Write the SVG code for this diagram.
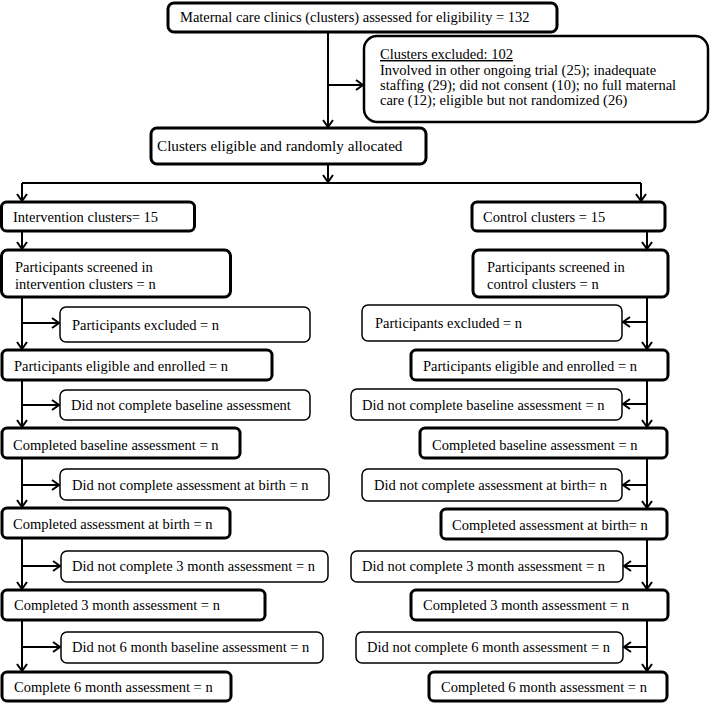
<svg xmlns="http://www.w3.org/2000/svg" width="711" height="703" viewBox="0 0 711 703">
<defs>
<style>
text{font-family:"Liberation Serif","Times New Roman",serif;font-size:14.5px;fill:#000}
.m{fill:#fff;stroke:#000;stroke-width:3}
.s{fill:#fff;stroke:#000;stroke-width:1.5}
.c{fill:none;stroke:#000;stroke-width:2}
.a{marker-end:url(#ah)}
</style>
<marker id="ah" markerWidth="12" markerHeight="12" refX="10" refY="6" orient="auto" markerUnits="userSpaceOnUse"><path d="M3,1 L10,6 L3,11" fill="none" stroke="#000" stroke-width="2"/></marker>
</defs>
<rect width="711" height="703" fill="#fff"/>
<g id="connectors">
<path class="c a" d="M328,32 V127"/>
<path class="c a" d="M328,85 H363"/>
<path class="c a" d="M328,164 V182"/>
<path class="c" d="M22,183 H641"/>
<path class="c a" d="M22,183 V201"/>
<path class="c a" d="M641,183 V201"/>
<path class="c a" d="M22,231 V249"/>
<path class="c a" d="M22,297 V349"/>
<path class="c a" d="M22,323 H59"/>
<path class="c a" d="M22,380 V427"/>
<path class="c a" d="M22,405 H59"/>
<path class="c a" d="M22,458 V507"/>
<path class="c a" d="M22,485 H59"/>
<path class="c a" d="M22,538 V589"/>
<path class="c a" d="M22,566 H60"/>
<path class="c a" d="M22,620 V671"/>
<path class="c a" d="M22,647 H60"/>
<path class="c a" d="M647,231 V249"/>
<path class="c a" d="M647,297 V349"/>
<path class="c a" d="M647,322 H623"/>
<path class="c a" d="M647,380 V427"/>
<path class="c a" d="M647,404 H623"/>
<path class="c a" d="M647,458 V508"/>
<path class="c a" d="M647,485 H623"/>
<path class="c a" d="M647,539 V589"/>
<path class="c a" d="M647,566 H624"/>
<path class="c a" d="M647,620 V671"/>
<path class="c a" d="M647,647 H624"/>
</g>
<g id="assessed"><rect class="m" x="168" y="3" width="389" height="29" rx="6"/><text x="180" y="22">Maternal care clinics (clusters) assessed for eligibility = 132</text></g>
<g id="excluded"><rect class="m" style="stroke-width:2.5" x="364" y="36" width="344" height="86" rx="13"/><text x="380" y="59" text-decoration="underline">Clusters excluded: 102</text><text x="380" y="75">Involved in other ongoing trial (25); inadequate</text><text x="380" y="90">staffing (29); did not consent (10); no full maternal</text><text x="380" y="105">care (12); eligible but not randomized (26)</text></g>
<g id="allocated"><rect class="m" x="151" y="128" width="275" height="36" rx="6"/><text x="157" y="151" style="font-size:15.2px">Clusters eligible and randomly allocated</text></g>
<g id="int-clusters"><rect class="m" x="1.5" y="202" width="193" height="29" rx="5"/><text x="13" y="222">Intervention clusters= 15</text></g>
<g id="int-screened"><rect class="m" x="1.5" y="250" width="229" height="47" rx="6"/><text x="15" y="272">Participants screened in</text><text x="15" y="289">intervention clusters = n</text></g>
<g id="int-excluded"><rect class="s" x="60" y="307" width="250" height="35" rx="6"/><text x="72" y="330">Participants excluded = n</text></g>
<g id="int-enrolled"><rect class="m" x="2" y="350" width="270" height="30" rx="5"/><text x="14" y="371">Participants eligible and enrolled = n</text></g>
<g id="int-nobaseline"><rect class="s" x="60" y="390" width="250" height="30" rx="6"/><text x="71" y="410">Did not complete baseline assessment</text></g>
<g id="int-baseline"><rect class="m" x="2" y="428" width="238" height="30" rx="5"/><text x="13" y="450">Completed baseline assessment = n</text></g>
<g id="int-nobirth"><rect class="s" x="60" y="469" width="269" height="31" rx="6"/><text x="72" y="490">Did not complete assessment at birth = n</text></g>
<g id="int-birth"><rect class="m" x="2" y="508" width="228" height="30" rx="5"/><text x="13" y="529">Completed assessment at birth = n</text></g>
<g id="int-no3m"><rect class="s" x="61" y="551" width="267" height="31" rx="6"/><text x="72" y="571">Did not complete 3 month assessment = n</text></g>
<g id="int-3m"><rect class="m" x="2" y="590" width="263" height="30" rx="5"/><text x="14" y="610">Completed 3 month assessment = n</text></g>
<g id="int-no6m"><rect class="s" x="61" y="632" width="262" height="31" rx="6"/><text x="72" y="652">Did not 6 month baseline assessment = n</text></g>
<g id="int-6m"><rect class="m" x="2" y="672" width="229" height="29" rx="5"/><text x="14" y="692">Complete 6 month assessment = n</text></g>
<g id="ctl-clusters"><rect class="m" x="472" y="202" width="193" height="29" rx="5"/><text x="483" y="222">Control clusters = 15</text></g>
<g id="ctl-screened"><rect class="m" x="473" y="250" width="195" height="47" rx="6"/><text x="487" y="272">Participants screened in</text><text x="487" y="289">control clusters = n</text></g>
<g id="ctl-excluded"><rect class="s" x="362" y="305" width="260" height="36" rx="6"/><text x="375" y="328">Participants excluded = n</text></g>
<g id="ctl-enrolled"><rect class="m" x="411" y="350" width="257" height="30" rx="5"/><text x="423" y="371">Participants eligible and enrolled = n</text></g>
<g id="ctl-nobaseline"><rect class="s" x="351" y="389" width="271" height="31" rx="6"/><text x="362" y="410">Did not complete baseline assessment = n</text></g>
<g id="ctl-baseline"><rect class="m" x="420" y="428" width="247" height="30" rx="5"/><text x="432" y="450">Completed baseline assessment = n</text></g>
<g id="ctl-nobirth"><rect class="s" x="362" y="469" width="260" height="32" rx="6"/><text x="374" y="490">Did not complete assessment at birth= n</text></g>
<g id="ctl-birth"><rect class="m" x="441" y="509" width="226" height="30" rx="5"/><text x="452" y="530">Completed assessment at birth= n</text></g>
<g id="ctl-no3m"><rect class="s" x="351" y="551" width="272" height="31" rx="6"/><text x="362" y="571">Did not complete 3 month assessment = n</text></g>
<g id="ctl-3m"><rect class="m" x="411" y="590" width="257" height="30" rx="5"/><text x="423" y="610">Completed 3 month assessment = n</text></g>
<g id="ctl-no6m"><rect class="s" x="356" y="632" width="267" height="31" rx="6"/><text x="367" y="652">Did not complete 6 month assessment = n</text></g>
<g id="ctl-6m"><rect class="m" x="429" y="672" width="238" height="29" rx="5"/><text x="441" y="692">Completed 6 month assessment = n</text></g>
</svg>
